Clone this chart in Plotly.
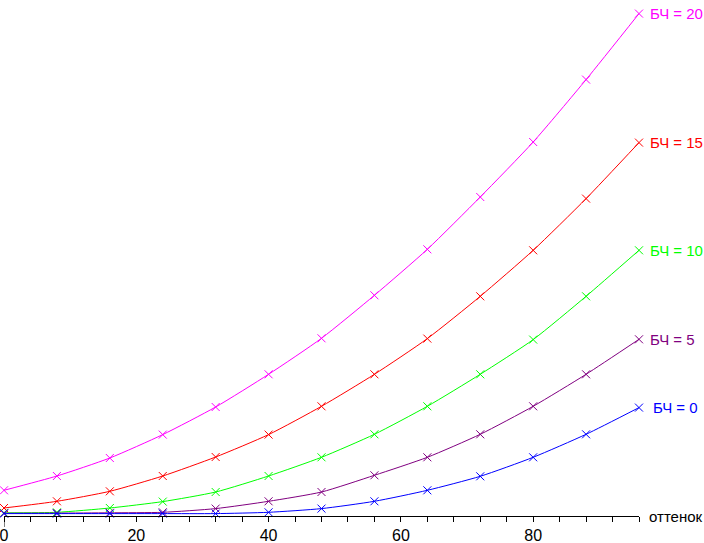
import plotly.graph_objects as go

# hue (оттенок) positions, shared by every curve
hue = [0, 8, 16, 24, 32, 40, 48, 56, 64, 72, 80, 88, 96]

# curve heights (arbitrary units, 0 = axis line)
bch_20 = [25.7, 40.0, 58.0, 81.4, 109.0, 141.7, 177.7, 220.7, 266.7, 319.0, 374.0, 436.4, 502.4]
bch_15 = [8.0, 14.7, 24.7, 40.0, 59.0, 81.4, 109.7, 141.7, 177.4, 219.7, 265.7, 317.4, 373.4]
bch_10 = [3.2, 3.7, 8.0, 14.4, 24.0, 40.0, 58.7, 81.7, 109.7, 141.7, 176.4, 219.7, 265.7]
bch_5 = [2.7, 2.9, 3.2, 3.7, 7.4, 14.7, 24.0, 40.7, 58.7, 81.7, 109.7, 141.7, 176.7]
bch_0 = [2.4, 2.4, 2.4, 2.4, 2.4, 3.7, 7.4, 14.7, 25.7, 39.7, 58.7, 81.7, 108.4]

series = [
    ("БЧ = 20", bch_20, "#ff00ff", 9),
    ("БЧ = 15", bch_15, "#ff0000", 9),
    ("БЧ = 10", bch_10, "#00ff00", 9),
    ("БЧ = 5", bch_5, "#800080", 9),
    ("БЧ = 0", bch_0, "#0000ff", 12),
]

FONT = "Liberation Sans, Arial, sans-serif"

fig = go.Figure()
for name, values, color, shift in series:
    fig.add_trace(go.Scatter(
        x=hue,
        y=values,
        mode="lines+markers",
        name=name,
        line=dict(color=color, width=1, shape="spline", smoothing=0.6),
        marker=dict(symbol="x-thin", size=8, line=dict(color=color, width=1)),
        cliponaxis=False,
    ))
    fig.add_annotation(
        x=hue[-1], y=values[-1], xref="x", yref="y",
        text=name, showarrow=False, xanchor="left", yanchor="middle",
        xshift=shift, font=dict(family=FONT, size=15, color=color),
    )

fig.add_annotation(
    x=hue[-1], y=0, xref="x", yref="y",
    text="оттенок", showarrow=False, xanchor="left", yanchor="middle",
    xshift=8, font=dict(family=FONT, size=15, color="black"),
)

# stub of the vertical axis: a longer tick under the origin
fig.add_shape(
    type="line", xref="x", yref="paper",
    x0=0, x1=0, y0=0, y1=-11 / 516,
    line=dict(color="black", width=1),
)

tick_vals = list(range(0, 97, 4))
tick_text = [str(v) if v % 20 == 0 else "" for v in tick_vals]

fig.update_layout(
    width=704,
    height=543,
    margin=dict(l=4, r=65, t=0, b=27),
    plot_bgcolor="white",
    paper_bgcolor="white",
    showlegend=False,
    font=dict(family=FONT, size=15, color="black"),
    xaxis=dict(
        range=[0, 96],
        showgrid=False,
        zeroline=False,
        showline=True,
        linecolor="black",
        linewidth=1,
        ticks="outside",
        ticklen=5,
        tickcolor="black",
        tickvals=tick_vals,
        ticktext=tick_text,
        ticklabeloverflow="allow",
        tickfont=dict(family=FONT, size=16, color="black"),
    ),
    yaxis=dict(range=[0, 516], visible=False),
)

# drop the default page margin so the figure sits at the window's corner
fig.write_html(
    "out.html",
    config={"displayModeBar": False},
    post_script="document.body.style.margin = '0';",
)
